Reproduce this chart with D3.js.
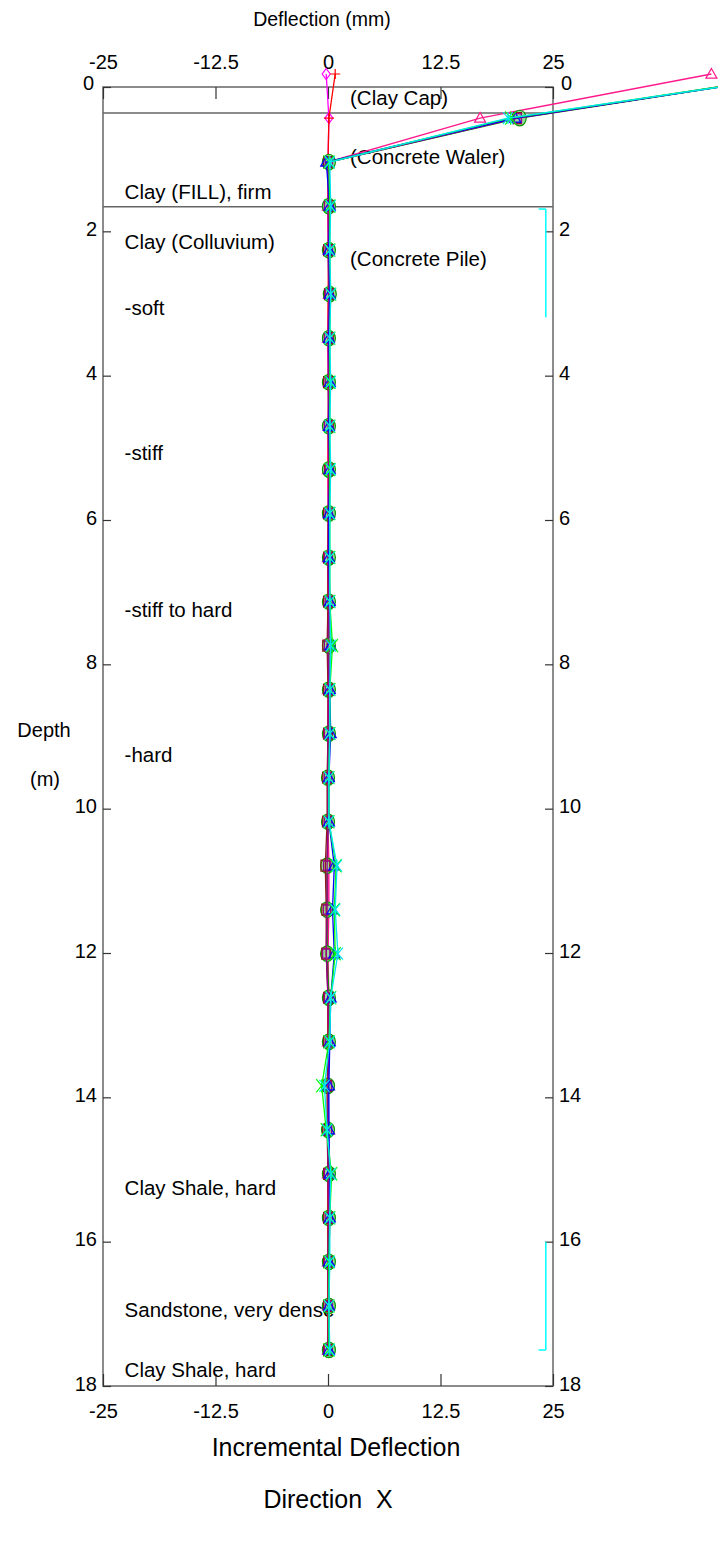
<!DOCTYPE html>
<html>
<head>
<meta charset="utf-8">
<script src="https://cdn.jsdelivr.net/npm/d3@7"></script>
<style>
  html, body { margin: 0; padding: 0; background: #fff; }
  svg { display: block; }
</style>
</head>
<body>
<div id="chart"></div>
<script>
// Profondeurs des lectures (m)
const depths = [-0.18, 0.43, 1.04, 1.65, 2.26, 2.87, 3.48, 4.09, 4.70, 5.30,
                5.91, 6.52, 7.13, 7.74, 8.35, 8.96, 9.57, 10.18, 10.79, 11.40,
                12.01, 12.62, 13.23, 13.84, 14.45, 15.06, 15.67, 16.28, 16.89, 17.50];

// Déflexions incrémentales (mm), une liste par lecture
const pinkTri    = [42.6, 16.9, 0.0, 0.0, 0.1, 0.1, 0.0, 0.1, 0.1, 0.0, 0.1, 0.0, 0.1, 0.1, 0.0, 0.1, 0.0, 0.0, 0.1, 0.1, 0.0, 0.1, 0.0, 0.0, 0.1, 0.0, 0.1, 0.0, 0.0, 0.0];
const magentaDia = [-0.2, 0.1, 0.0, 0.0, 0.0, 0.1, 0.0, 0.0, 0.1, 0.0, 0.0, 0.0, 0.0, 0.1, 0.0, 0.0, 0.0, 0.0, 0.0, 0.0, 0.0, 0.0, 0.0, 0.0, 0.0, 0.0, 0.0, 0.0, 0.0, 0.0];
const redPlus    = [0.8, 0.1, 0.0, 0.0, 0.1, 0.0, 0.0, 0.1, 0.0, 0.0, 0.1, 0.0, 0.0, 0.0, 0.1, 0.0, 0.0, 0.0, -0.1, -0.1, -0.1, 0.0, 0.0, 0.0, 0.0, 0.0, 0.0, 0.0, 0.0, 0.0];
const greenCirc  = [53.0, 21.3, 0.1, 0.1, 0.1, 0.2, 0.1, 0.1, 0.1, 0.1, 0.1, 0.1, 0.1, 0.1, 0.1, 0.1, 0.0, 0.0, -0.1, -0.1, -0.1, 0.1, 0.1, 0.0, 0.0, 0.1, 0.1, 0.1, 0.1, 0.1];
const maroonSq   = [52.6, 21.0, 0.0, 0.1, 0.0, 0.1, 0.1, 0.0, 0.1, 0.1, 0.0, 0.0, 0.0, -0.1, 0.0, 0.0, -0.1, -0.1, -0.3, -0.2, -0.2, 0.0, 0.0, -0.1, -0.1, 0.0, 0.0, 0.0, 0.0, 0.0];
const purpleSq   = [52.8, 21.1, 0.1, 0.0, 0.1, 0.1, 0.0, 0.1, 0.0, 0.1, 0.1, 0.0, 0.1, 0.0, 0.1, 0.0, 0.0, 0.0, -0.1, -0.1, -0.2, 0.0, 0.1, 0.0, 0.0, 0.0, 0.1, 0.0, 0.1, 0.0];
const blueTri    = [53.2, 20.8, -0.2, 0.2, 0.1, 0.2, 0.1, 0.2, 0.1, 0.2, 0.1, 0.1, 0.2, 0.3, 0.2, 0.3, 0.1, 0.1, 0.7, 0.5, 0.7, 0.3, 0.2, 0.1, 0.1, 0.2, 0.2, 0.1, 0.1, 0.1];
const limeX      = [53.0, 20.3, 0.1, 0.2, 0.2, 0.3, 0.2, 0.2, 0.2, 0.2, 0.2, 0.2, 0.2, 0.5, 0.2, 0.2, 0.1, 0.1, 0.9, 0.7, 0.8, 0.3, 0.1, -0.7, -0.2, 0.4, 0.2, 0.1, 0.1, 0.1];
const cyanX      = [53.4, 20.0, 0.2, 0.3, 0.2, 0.3, 0.2, 0.3, 0.2, 0.3, 0.2, 0.2, 0.2, 0.3, 0.2, 0.2, 0.1, 0.1, 1.0, 0.8, 1.1, 0.3, 0.2, -0.4, -0.1, 0.3, 0.2, 0.2, 0.1, 0.2];

// Graduations
const xTicks = [-25, -12.5, 0, 12.5, 25];
const yTicks = [0, 2, 4, 6, 8, 10, 12, 14, 16, 18];

// Limites de couches (m) et repères cyan
const layerBounds = [0.36, 1.66];
const brackets = [[1.69, 3.19, "top"], [16.0, 17.5, "bottom"]];

// Libellés des couches : texte, profondeur de la ligne de base
const leftLabels = [
  ["Clay (FILL), firm", 1.55], ["Clay (Colluvium)", 2.24], ["-soft", 3.16],
  ["-stiff", 5.17], ["-stiff to hard", 7.34], ["-hard", 9.36],
  ["Clay Shale, hard", 15.36], ["Sandstone, very dense", 17.04], ["Clay Shale, hard", 17.87]
];
const rightLabels = [["(Clay Cap)", 0.25], ["(Concrete Waler)", 1.07], ["(Concrete Pile)", 2.48]];

const series = [
  { values: magentaDia, color: "#ff00ff", shape: "diamond",  size: 5 },
  { values: redPlus,    color: "#ff0000", shape: "plus",     size: 5 },
  { values: pinkTri,    color: "#ff1a8c", shape: "triangle", size: 5.5 },
  { values: greenCirc,  color: "#009a00", shape: "circle",   size: 6.5, fill: "#9ad89a" },
  { values: maroonSq,   color: "#8b1a1a", shape: "square",   size: 5.5 },
  { values: purpleSq,   color: "#9a0090", shape: "square",   size: 4.5 },
  { values: blueTri,    color: "#0000ff", shape: "triangle", size: 5.5 },
  { values: limeX,      color: "#00ff00", shape: "x",        size: 5.5 },
  { values: cyanX,      color: "#00e5ee", shape: "x",        size: 5 },
];

const W = 718, H = 1541;
const mLeft = 103, mRight = 553, mTop = 87, mBottom = 1386;
const font = "'Liberation Sans', Arial, sans-serif";

const svg = d3.select("#chart").append("svg")
  .attr("width", W).attr("height", H)
  .attr("font-family", font);

svg.append("rect").attr("width", W).attr("height", H).attr("fill", "#fff");

const x = d3.scaleLinear().domain([-25, 25]).range([mLeft, mRight]);
const y = d3.scaleLinear().domain([0, 18]).range([mTop, mBottom]);

// Cadre
svg.append("rect")
  .attr("x", mLeft).attr("y", mTop)
  .attr("width", mRight - mLeft).attr("height", mBottom - mTop)
  .attr("stroke", "#666").attr("stroke-width", 1.5).attr("fill", "none");

// Axes : graduations intérieures, domaines cachés
const axTop = svg.append("g").attr("transform", `translate(0,${mTop})`)
  .call(d3.axisTop(x).tickValues(xTicks).tickSize(-12).tickPadding(18).tickFormat(d => d));
const axBot = svg.append("g").attr("transform", `translate(0,${mBottom})`)
  .call(d3.axisBottom(x).tickValues(xTicks).tickSize(-12).tickPadding(18).tickFormat(d => d));
const axLeft = svg.append("g").attr("transform", `translate(${mLeft},0)`)
  .call(d3.axisLeft(y).tickValues(yTicks).tickSize(-8).tickPadding(6));
const axRight = svg.append("g").attr("transform", `translate(${mRight},0)`)
  .call(d3.axisRight(y).tickValues(yTicks).tickSize(-8).tickPadding(6));

[axTop, axBot, axLeft, axRight].forEach(a => {
  a.select(".domain").remove();
  a.selectAll(".tick line").attr("stroke", "#333").attr("stroke-width", 1.2);
  a.selectAll("text").attr("fill", "#000").attr("font-size", "20px").attr("font-family", font);
});
axTop.selectAll(".tick text").attr("dy", "0");
axBot.selectAll(".tick text").attr("dy", "0.71em");
axLeft.selectAll(".tick text").attr("dy", d => d === 0 ? "0.12em" : "0.2em").attr("dx", d => d === 0 ? -3 : 0);
axRight.selectAll(".tick text").attr("dy", d => d === 0 ? "0.12em" : "0.2em").attr("dx", d => d === 0 ? 2 : 0);

// Limites de couches
svg.selectAll(".layer")
  .data(layerBounds).enter().append("line")
  .attr("x1", mLeft).attr("x2", mRight)
  .attr("y1", d => y(d)).attr("y2", d => y(d))
  .attr("stroke", "#666").attr("stroke-width", 1.5);

// Repères cyan à droite
brackets.forEach(([d0, d1, hook]) => {
  const bx = x(24.2), hx = x(23.4);
  const hy = hook === "top" ? y(d0) : y(d1);
  svg.append("path")
    .attr("d", `M${bx},${y(d0)}V${y(d1)}M${hx},${hy}H${bx}`)
    .attr("stroke", "#00ffff").attr("stroke-width", 1.5).attr("fill", "none");
});

// Libellés
svg.selectAll(".llab").data(leftLabels).enter().append("text")
  .attr("x", x(-22.6)).attr("y", d => y(d[1]))
  .attr("font-size", "20.5px").text(d => d[0]);
svg.selectAll(".rlab").data(rightLabels).enter().append("text")
  .attr("x", x(2.45)).attr("y", d => y(d[1]))
  .attr("font-size", "20.5px").text(d => d[0]);

// Formes des marqueurs
function markerPath(shape, s) {
  switch (shape) {
    case "circle": return `M${-s},0A${s},${s * 1.2} 0 1,0 ${s},0A${s},${s * 1.2} 0 1,0 ${-s},0Z`;
    case "square": return `M${-s * 0.8},${-s}H${s * 0.8}V${s}H${-s * 0.8}Z`;
    case "triangle": return `M0,${-s}L${s},${s * 0.75}H${-s}Z`;
    case "diamond": return `M0,${-s * 1.1}L${s * 0.8},0L0,${s * 1.1}L${-s * 0.8},0Z`;
    case "plus": return `M${-s},0H${s}M0,${-s}V${s}`;
    case "x": return `M${-s},${-s * 1.2}L${s},${s * 1.2}M${-s},${s * 1.2}L${s},${-s * 1.2}M0,${-s * 1.2}V${s * 1.2}`;
  }
}

const line = d3.line().x(d => x(d[0])).y(d => y(d[1]));

series.forEach(s => {
  const pts = s.values.map((v, i) => [v, depths[i]]);
  const g = svg.append("g");
  g.append("path")
    .attr("d", line(pts))
    .attr("fill", "none").attr("stroke", s.color).attr("stroke-width", 1.3);
  g.selectAll("path.mk").data(pts).enter().append("path")
    .attr("class", "mk")
    .attr("transform", d => `translate(${x(d[0])},${y(d[1])})`)
    .attr("d", markerPath(s.shape, s.size))
    .attr("fill", s.fill || "none").attr("stroke", s.color).attr("stroke-width", 1.2);
});

// Titres
svg.append("text").attr("x", 322).attr("y", 26).attr("text-anchor", "middle")
  .attr("font-size", "19.5px").text("Deflection (mm)");
svg.append("text").attr("x", 44).attr("y", 737).attr("text-anchor", "middle")
  .attr("font-size", "20px").text("Depth");
svg.append("text").attr("x", 45).attr("y", 786).attr("text-anchor", "middle")
  .attr("font-size", "20px").text("(m)");
svg.append("text").attr("x", 336).attr("y", 1456).attr("text-anchor", "middle")
  .attr("font-size", "25px").text("Incremental Deflection");
svg.append("text").attr("x", 328).attr("y", 1508).attr("text-anchor", "middle")
  .attr("font-size", "25px").attr("xml:space", "preserve").text("Direction  X");
</script>
</body>
</html>
